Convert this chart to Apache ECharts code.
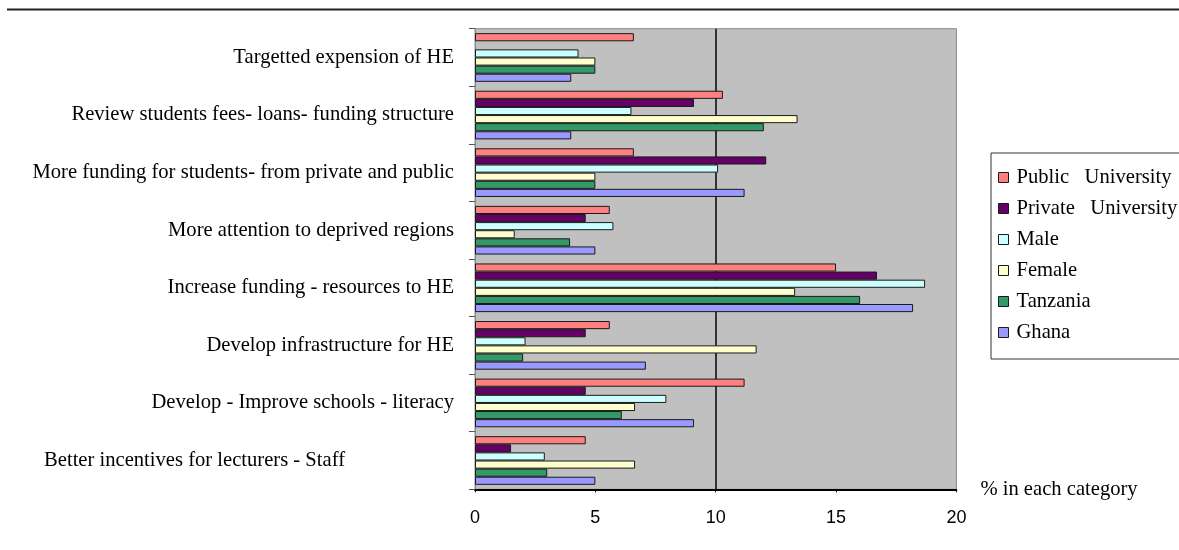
<!DOCTYPE html>
<html>
<head>
<meta charset="utf-8">
<script src="https://cdn.jsdelivr.net/npm/echarts@6/dist/echarts.min.js"></script>
<style>
html,body{margin:0;padding:0;background:#fff;}
#chart{width:1179px;height:550px;}
</style>
</head>
<body>
<div id="chart"></div>
<script>
// Categories, top to bottom
var categories = [
  "Targetted expension of HE",
  "Review students fees- loans- funding structure",
  "More funding for students- from private and public",
  "More attention to deprived regions",
  "Increase funding - resources to HE",
  "Develop infrastructure for HE",
  "Develop - Improve schools - literacy",
  "Better incentives for lecturers - Staff"
];
var seriesNames = ["Public   University", "Private   University", "Male", "Female", "Tanzania", "Ghana"];
var publicUniversity  = [6.6, 10.3, 6.6, 5.6, 15.0, 5.6, 11.2, 4.6];
var privateUniversity = [null, 9.1, 12.1, 4.6, 16.7, 4.6, 4.6, 1.5];
var male              = [4.3, 6.5, 10.1, 5.75, 18.7, 2.1, 7.95, 2.9];
var female            = [5.0, 13.4, 5.0, 1.65, 13.3, 11.7, 6.65, 6.65];
var tanzania          = [5.0, 12.0, 5.0, 3.95, 16.0, 2.0, 6.1, 3.0];
var ghana             = [4.0, 4.0, 11.2, 5.0, 18.2, 7.1, 9.1, 5.0];
var xTicks = [0, 5, 10, 15, 20];

var colors = ["#FF8080", "#660066", "#CCFFFF", "#FFFFCC", "#339966", "#9999FF"];
var values = [publicUniversity, privateUniversity, male, female, tanzania, ghana];

var serif = "'Liberation Serif', 'Times New Roman', serif";
var sans = "'Liberation Sans', Arial, sans-serif";
var serifSize = 20.6;

var catData = categories.map(function (c, i) {
  if (i === categories.length - 1) {
    return { value: c, textStyle: { padding: [0, 109, 0, 0] } };
  }
  return c;
});

var series = values.map(function (v, i) {
  return {
    name: seriesNames[i],
    type: 'bar',
    data: v,
    xAxisIndex: 0,
    barGap: '0%',
    barCategoryGap: '15.5%',
    itemStyle: { color: colors[i], borderColor: '#1a1a1a', borderWidth: 1 },
    emphasis: { disabled: true },
    animation: false
  };
});

var chart = echarts.init(document.getElementById('chart'), null, { renderer: 'canvas' });
chart.setOption({
  animation: false,
  grid: {
    left: 475, top: 28.7, right: 222.6, bottom: 60.7,
    show: true, backgroundColor: '#C0C0C0', borderColor: '#8a8a8a', borderWidth: 1,
    containLabel: false
  },
  legend: {
    orient: 'vertical',
    left: 991, top: 153,
    padding: [14, 14, 16, 7],
    backgroundColor: '#fff',
    borderColor: '#333', borderWidth: 1,
    itemWidth: 10, itemHeight: 10, itemGap: 10,
    icon: 'rect',
    selectedMode: false,
    textStyle: { fontFamily: serif, fontSize: serifSize, color: '#000', padding: [0, 0, 0, 3] },
    data: seriesNames.map(function (n) {
      return { name: n, itemStyle: { borderColor: '#1a1a1a', borderWidth: 1 } };
    })
  },
  xAxis: [{
    type: 'value', min: xTicks[0], max: xTicks[xTicks.length - 1], interval: 5,
    name: '% in each category', nameLocation: 'end', nameGap: 24,
    nameTextStyle: { fontFamily: serif, fontSize: serifSize, color: '#000', verticalAlign: 'middle' },
    axisLine: { show: true, lineStyle: { color: '#000', width: 2 } },
    axisTick: { show: true, length: 3, lineStyle: { color: '#000' } },
    axisLabel: { fontFamily: sans, fontSize: 18, color: '#000', margin: 20 },
    splitLine: { show: false }
  }, {
    type: 'value', min: 0, max: 20, interval: 10, position: 'bottom',
    axisLine: { show: false }, axisTick: { show: false }, axisLabel: { show: false },
    splitLine: { show: true, showMinLine: false, showMaxLine: false, lineStyle: { color: '#333', width: 2 } }
  }],
  yAxis: {
    type: 'category', inverse: true, data: catData,
    axisLine: { show: true, lineStyle: { color: '#8a8a8a', width: 1 } },
    axisTick: { show: true, length: 6, lineStyle: { color: '#555' } },
    axisLabel: { fontFamily: serif, fontSize: serifSize, color: '#000', margin: 21 },
    splitLine: { show: false }
  },
  graphic: [{
    type: 'line', shape: { x1: 7, y1: 9.5, x2: 1179, y2: 9.5 },
    style: { stroke: '#222', lineWidth: 2 }, silent: true
  }],
  series: series
});
</script>
</body>
</html>
